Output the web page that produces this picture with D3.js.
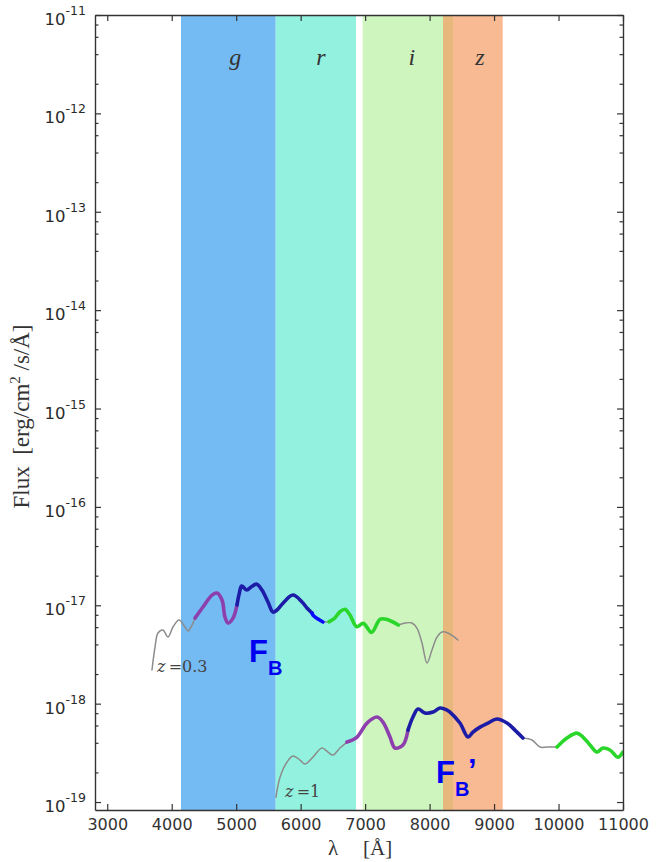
<!DOCTYPE html>
<html>
<head>
<meta charset="utf-8">
<script src="https://cdn.jsdelivr.net/npm/d3@7"></script>
<style>
  html, body { margin: 0; padding: 0; background: #fff; }
  svg { display: block; }
</style>
</head>
<body>
<svg id="chart" width="656" height="862"></svg>
<script>
// ---------- DATA ----------
const xTicks = [3000, 4000, 5000, 6000, 7000, 8000, 9000, 10000, 11000];
const yExponents = [-19, -18, -17, -16, -15, -14, -13, -12, -11];
const minorMultipliers = [2, 4, 6, 8];

const bandNames = ["g", "r", "i", "z"];
const bandStart = [4144, 5613, 6962, 8208];
const bandEnd   = [5613, 6858, 8363, 9134];

// spectrum z = 0.3 : [wavelength (Å), flux]
const z03Gray1 = [[3694,2.2e-18],[3741,3.76e-18],[3787,5.22e-18],[3865,5.6e-18],[3942,4.75e-18],[4020,6.01e-18],[4113,7.08e-18],[4206,6.01e-18],[4253,5.47e-18],[4315,6.3e-18],[4361,7.41e-18]];
const z03Purple = [[4361,7.41e-18],[4485,9.6e-18],[4625,1.27e-17],[4702,1.33e-17],[4780,1.13e-17],[4826,7.6e-18],[4873,6.6e-18],[4951,7.41e-18],[5013,1.01e-17]];
const z03Blue = [[5013,1.01e-17],[5048,1.32e-17],[5085,1.57e-17],[5163,1.43e-17],[5240,1.55e-17],[5318,1.64e-17],[5400,1.43e-17],[5493,1.08e-17],[5571,8.53e-18],[5633,8.95e-18],[5726,1.05e-17],[5881,1.27e-17],[6021,1.08e-17],[6098,9.38e-18],[6176,8.34e-18]];
const z03BrightBlue = [[6176,8.34e-18],[6191,7.96e-18],[6269,7.24e-18],[6346,6.76e-18]];
const z03Gray2 = [[6346,6.76e-18],[6440,6.8e-18]];
const z03Green = [[6440,6.8e-18],[6520,7.3e-18],[6610,8.6e-18],[6688,9.1e-18],[6765,7.96e-18],[6869,6.05e-18],[6972,6.55e-18],[7101,5.31e-18],[7230,7.19e-18],[7334,7.19e-18],[7515,6.3e-18]];
const z03Gray3 = [[7515,6.3e-18],[7618,6.6e-18],[7727,6.6e-18],[7804,5.87e-18],[7882,4.13e-18],[7960,2.59e-18],[8037,3.51e-18],[8115,4.75e-18],[8192,5.35e-18],[8285,5.22e-18],[8440,4.44e-18]];

// spectrum z = 1
const z1Gray1 = [[5617,1.12e-19],[5680,1.79e-19],[5788,2.55e-19],[5881,2.94e-19],[5990,2.67e-19],[6068,2.43e-19],[6191,2.86e-19],[6331,3.54e-19],[6424,3.22e-19],[6501,3.0e-19],[6610,3.54e-19],[6718,4.07e-19]];
const z1Purple = [[6718,4.07e-19],[6874,4.58e-19],[7029,6.35e-19],[7184,7.31e-19],[7277,6.5e-19],[7386,4.58e-19],[7463,3.54e-19],[7587,3.8e-19],[7665,5.39e-19]];
const z1Blue = [[7665,5.39e-19],[7742,7.31e-19],[7820,8.81e-19],[7928,8.03e-19],[8053,8.22e-19],[8161,9.03e-19],[8270,8.61e-19],[8316,8.22e-19],[8471,6.35e-19],[8596,4.58e-19],[8673,5.15e-19],[8782,5.78e-19],[8906,6.35e-19],[9045,6.98e-19],[9200,6.35e-19],[9324,5.39e-19],[9448,4.48e-19]];
const z1Gray2 = [[9448,4.48e-19],[9588,4.27e-19],[9712,3.62e-19],[9820,3.62e-19],[9976,3.62e-19]];
const z1Green = [[9976,3.62e-19],[10131,4.48e-19],[10286,5.02e-19],[10379,4.58e-19],[10488,3.8e-19],[10596,3.22e-19],[10689,3.54e-19],[10798,3.38e-19],[10922,2.86e-19],[11000,3.22e-19]];

const xDomain = [2810, 11000];
const yDomain = [8.3e-20, 1e-11];

// ---------- STYLE / LAYOUT ----------
const M = { left: 95, right: 623, top: 15, bottom: 810 };
const bandFill = { g: "#74baf3", r: "#93f2df", i: "#cff5bf", z: "#f3975a" };
const bandOpacity = { g: 1, r: 1, i: 1, z: 0.66 };
const bandLabelShift = [7, 5, 4, 7];
const segStyle = {
  gray:   { color: "#8c8c8c", width: 1.5 },
  purple: { color: "#8d3fae", width: 3.6 },
  blue:   { color: "#1c1ca6", width: 3.6 },
  bright: { color: "#0a0aff", width: 3.6 },
  green:  { color: "#2bd62b", width: 3.6 }
};

const svg = d3.select("#chart");
const x = d3.scaleLinear().domain(xDomain).range([M.left, M.right]);
const y = d3.scaleLog().domain(yDomain).range([M.bottom, M.top]);

svg.append("defs").append("clipPath").attr("id", "clip")
  .append("rect").attr("x", M.left).attr("y", M.top)
  .attr("width", M.right - M.left).attr("height", M.bottom - M.top);

const plot = svg.append("g").attr("clip-path", "url(#clip)");

// bands
plot.selectAll("rect.band")
  .data(bandNames.map((n, i) => ({ n, s: bandStart[i], e: bandEnd[i] })))
  .join("rect").attr("class", "band")
  .attr("x", d => x(d.s)).attr("width", d => x(d.e) - x(d.s))
  .attr("y", M.top).attr("height", M.bottom - M.top)
  .attr("fill", d => bandFill[d.n]).attr("fill-opacity", d => bandOpacity[d.n]);

// band labels
svg.selectAll("text.bandlab")
  .data(bandNames.map((n, i) => ({ n, c: (bandStart[i] + bandEnd[i]) / 2 })))
  .join("text").attr("class", "bandlab")
  .attr("x", (d, i) => x(d.c) + bandLabelShift[i])
  .attr("y", 65)
  .attr("text-anchor", "middle")
  .attr("font-family", "Liberation Serif, serif").attr("font-style", "italic")
  .attr("font-size", 24).attr("fill", "#333")
  .text(d => d.n);

// spectra
const line = d3.line().x(d => x(d[0])).y(d => y(d[1])).curve(d3.curveCatmullRom.alpha(0.5));
const segments = [
  [z03Gray1, "gray"], [z03Gray2, "gray"], [z03Gray3, "gray"],
  [z1Gray1, "gray"], [z1Gray2, "gray"],
  [z03Purple, "purple"], [z03Blue, "blue"], [z03BrightBlue, "bright"], [z03Green, "green"],
  [z1Purple, "purple"], [z1Blue, "blue"], [z1Green, "green"]
];
plot.selectAll("path.seg").data(segments).join("path").attr("class", "seg")
  .attr("d", d => line(d[0]))
  .attr("fill", "none")
  .attr("stroke", d => segStyle[d[1]].color)
  .attr("stroke-width", d => segStyle[d[1]].width)
  .attr("stroke-linecap", "round").attr("stroke-linejoin", "round");

// axes
const majorY = yExponents.map(e => Math.pow(10, e));
const minorY = [];
yExponents.slice(0, -1).forEach(e => minorMultipliers.forEach(m => minorY.push(m * Math.pow(10, e))));

const axisColor = "#333";
function styleAxis(g) {
  g.select(".domain").attr("stroke", axisColor).attr("stroke-width", 1.4);
  g.selectAll(".tick line").attr("stroke", axisColor).attr("stroke-width", 1.2);
}

svg.append("g").attr("transform", `translate(0,${M.bottom})`)
  .call(d3.axisBottom(x).tickValues(xTicks).tickSize(-6).tickSizeOuter(0).tickPadding(8.5).tickFormat(d3.format("d")))
  .call(styleAxis)
  .call(g => g.selectAll(".tick text").attr("font-family", "DejaVu Sans, sans-serif").attr("font-size", 16).attr("fill", "#333"));

svg.append("g").attr("transform", `translate(0,${M.top})`)
  .call(d3.axisTop(x).tickValues(xTicks).tickSize(-6).tickSizeOuter(0).tickFormat(""))
  .call(styleAxis);

svg.append("g").attr("transform", `translate(${M.left},0)`)
  .call(d3.axisLeft(y).tickValues(majorY).tickSize(-6).tickSizeOuter(0).tickFormat(""))
  .call(styleAxis);
svg.append("g").attr("transform", `translate(${M.left},0)`)
  .call(d3.axisLeft(y).tickValues(minorY).tickSize(-3.5).tickSizeOuter(0).tickFormat(""))
  .call(styleAxis).call(g => g.select(".domain").remove());

svg.append("g").attr("transform", `translate(${M.right},0)`)
  .call(d3.axisRight(y).tickValues(majorY).tickSize(-6).tickSizeOuter(0).tickFormat(""))
  .call(styleAxis);
svg.append("g").attr("transform", `translate(${M.right},0)`)
  .call(d3.axisRight(y).tickValues(minorY).tickSize(-3.5).tickSizeOuter(0).tickFormat(""))
  .call(styleAxis).call(g => g.select(".domain").remove());

// y tick labels with superscripts
const ylab = svg.append("g").selectAll("text").data(yExponents).join("text")
  .attr("x", 86).attr("y", e => y(Math.pow(10, e)) + 10)
  .attr("text-anchor", "end")
  .attr("font-family", "DejaVu Sans, sans-serif").attr("fill", "#2a2a2a");
ylab.append("tspan").attr("font-size", 16.5).text("10");
ylab.append("tspan").attr("font-size", 12.5).attr("dy", -10).text(e => String(e));

// axis titles
svg.append("text")
  .attr("transform", `translate(29,416.5) rotate(-90)`)
  .attr("text-anchor", "middle")
  .attr("font-family", "Liberation Serif, serif").attr("font-size", 23).attr("fill", "#333")
  .call(t => {
    t.append("tspan").text("Flux\u00a0\u00a0[erg/cm");
    t.append("tspan").attr("font-size", 15).attr("dy", -9).text("2");
    t.append("tspan").attr("dy", 9).text("\u00a0/s/\u00c5]");
  });

svg.append("text").attr("x", 328).attr("y", 855)
  .attr("font-family", "Liberation Serif, serif").attr("font-size", 21).attr("fill", "#333")
  .text("\u03bb");
svg.append("text").attr("x", 363).attr("y", 855)
  .attr("font-family", "Liberation Serif, serif").attr("font-size", 21).attr("fill", "#333")
  .text("[\u00c5]");

// curve labels
svg.append("text").attr("x", 157).attr("y", 672)
  .attr("font-family", "DejaVu Serif, serif").attr("font-size", 16).attr("fill", "#444")
  .call(t => {
    t.append("tspan").attr("font-style", "italic").text("z");
    t.append("tspan").text("\u2009=0.3");
  });
svg.append("text").attr("x", 285).attr("y", 797)
  .attr("font-family", "DejaVu Serif, serif").attr("font-size", 16).attr("fill", "#444")
  .call(t => {
    t.append("tspan").attr("font-style", "italic").text("z");
    t.append("tspan").text("\u2009=1");
  });

// F_B labels
const fbColor = "#0000f0";
function fb(xp, yp, prime) {
  svg.append("text").attr("x", xp).attr("y", yp)
    .attr("font-family", "Liberation Sans, Arial, sans-serif").attr("font-weight", "bold")
    .attr("font-size", 31).attr("fill", fbColor).text("F");
  svg.append("text").attr("x", xp + 19).attr("y", yp + 13)
    .attr("font-family", "Liberation Sans, Arial, sans-serif").attr("font-weight", "bold")
    .attr("font-size", 20).attr("fill", fbColor).text("B");
  if (prime) {
    svg.append("text").attr("x", xp + 32).attr("y", yp - 2)
      .attr("font-family", "Liberation Sans, Arial, sans-serif").attr("font-weight", "bold")
      .attr("font-size", 31).attr("fill", fbColor).text("\u2019");
  }
}
fb(249, 662, false);
fb(436, 783, true);
</script>
</body>
</html>
